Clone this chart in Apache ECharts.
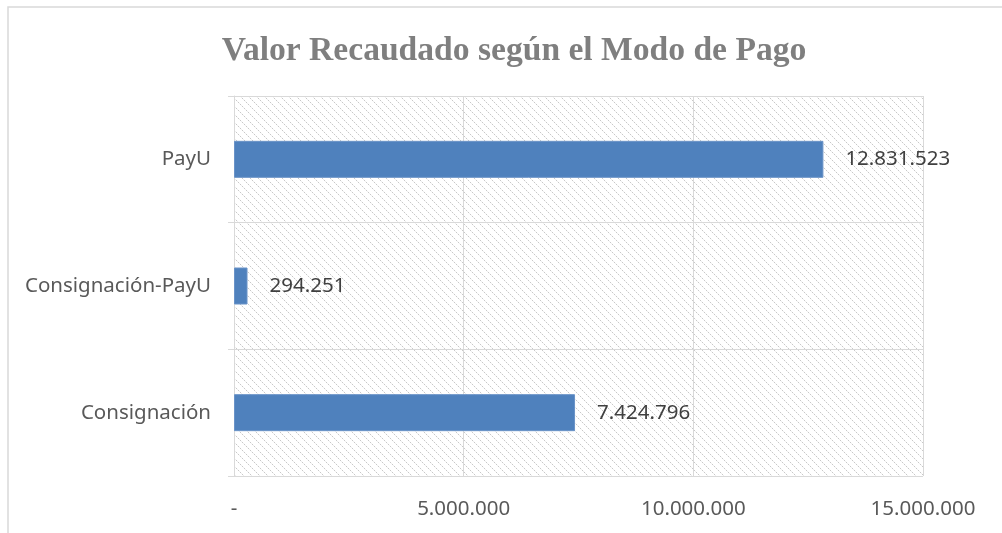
<!DOCTYPE html>
<html>
<head>
<meta charset="utf-8">
<script src="https://cdn.jsdelivr.net/npm/echarts@6/dist/echarts.min.js"></script>
<style>
  html, body { margin: 0; padding: 0; background: #fff; }
  #chart { width: 1002px; height: 533px; }
</style>
</head>
<body>
<div id="chart"></div>
<script>
const TITLE = 'Valor Recaudado según el Modo de Pago'
const categories = ['Consignación', 'Consignación-PayU', 'PayU']
const values = [7424796, 294251, 12831523]

// thousands with dots, zero shown as dash (Excel accounting style)
const fmt = (v) => {
  if (!v) return '-'
  return String(Math.round(v)).replace(/\B(?=(\d{3})+(?!\d))/g, '.')
}

// light diagonal hatch for the plot area
function hatch() {
  const c = document.createElement('canvas')
  c.width = 8
  c.height = 8
  const ctx = c.getContext('2d')
  ctx.fillStyle = '#fff'
  ctx.fillRect(0, 0, 8, 8)
  for (let i = 0; i < 8; i++) {
    ctx.fillStyle = i % 2 ? '#eeeeee' : '#c8c8c8'
    ctx.fillRect(i, i, 1, 1)
  }
  return c
}

const chart = echarts.init(document.getElementById('chart'))
chart.setOption({
  animation: false,
  backgroundColor: '#fff',
  title: {
    text: TITLE,
    left: 509,
    textAlign: 'center',
    top: 29,
    textStyle: {
      fontFamily: 'Liberation Serif',
      fontWeight: 'bold',
      fontSize: 33.6,
      color: '#7f7f7f',
    },
  },
  graphic: [{
    type: 'rect',
    shape: { x: 8, y: 7, width: 1100, height: 700 },
    style: { fill: 'none', stroke: '#d9d9d9', lineWidth: 1.5 },
    silent: true,
  }],
  grid: {
    left: 234,
    right: 79,
    top: 96,
    bottom: 57,
    show: true,
    borderWidth: 0,
    backgroundColor: { image: hatch(), repeat: 'repeat' },
  },
  xAxis: {
    type: 'value',
    min: 0,
    max: 15000000,
    interval: 5000000,
    axisLine: { show: false },
    axisTick: { show: false },
    axisLabel: {
      formatter: fmt,
      margin: 23,
      fontFamily: 'Noto Sans',
      fontSize: 20.5,
      color: '#595959',
    },
    splitLine: { show: true, lineStyle: { color: '#d9d9d9', width: 1 } },
  },
  yAxis: {
    type: 'category',
    data: categories,
    axisLine: { show: true, lineStyle: { color: '#d9d9d9', width: 1 } },
    axisTick: { show: true, length: 6, lineStyle: { color: '#d9d9d9' } },
    splitLine: { show: true, lineStyle: { color: '#d9d9d9', width: 1 } },
    axisLabel: {
      margin: 23,
      fontFamily: 'Noto Sans',
      fontSize: 20.5,
      color: '#595959',
    },
  },
  series: [{
    type: 'bar',
    data: values,
    barWidth: 37,
    itemStyle: { color: '#4f81bd', borderColor: '#6a93c8', borderWidth: 1 },
    label: {
      show: true,
      position: 'right',
      distance: 22,
      formatter: (p) => fmt(p.value),
      fontFamily: 'Noto Sans',
      fontSize: 20.5,
      color: '#404040',
    },
  }],
})
</script>
</body>
</html>
